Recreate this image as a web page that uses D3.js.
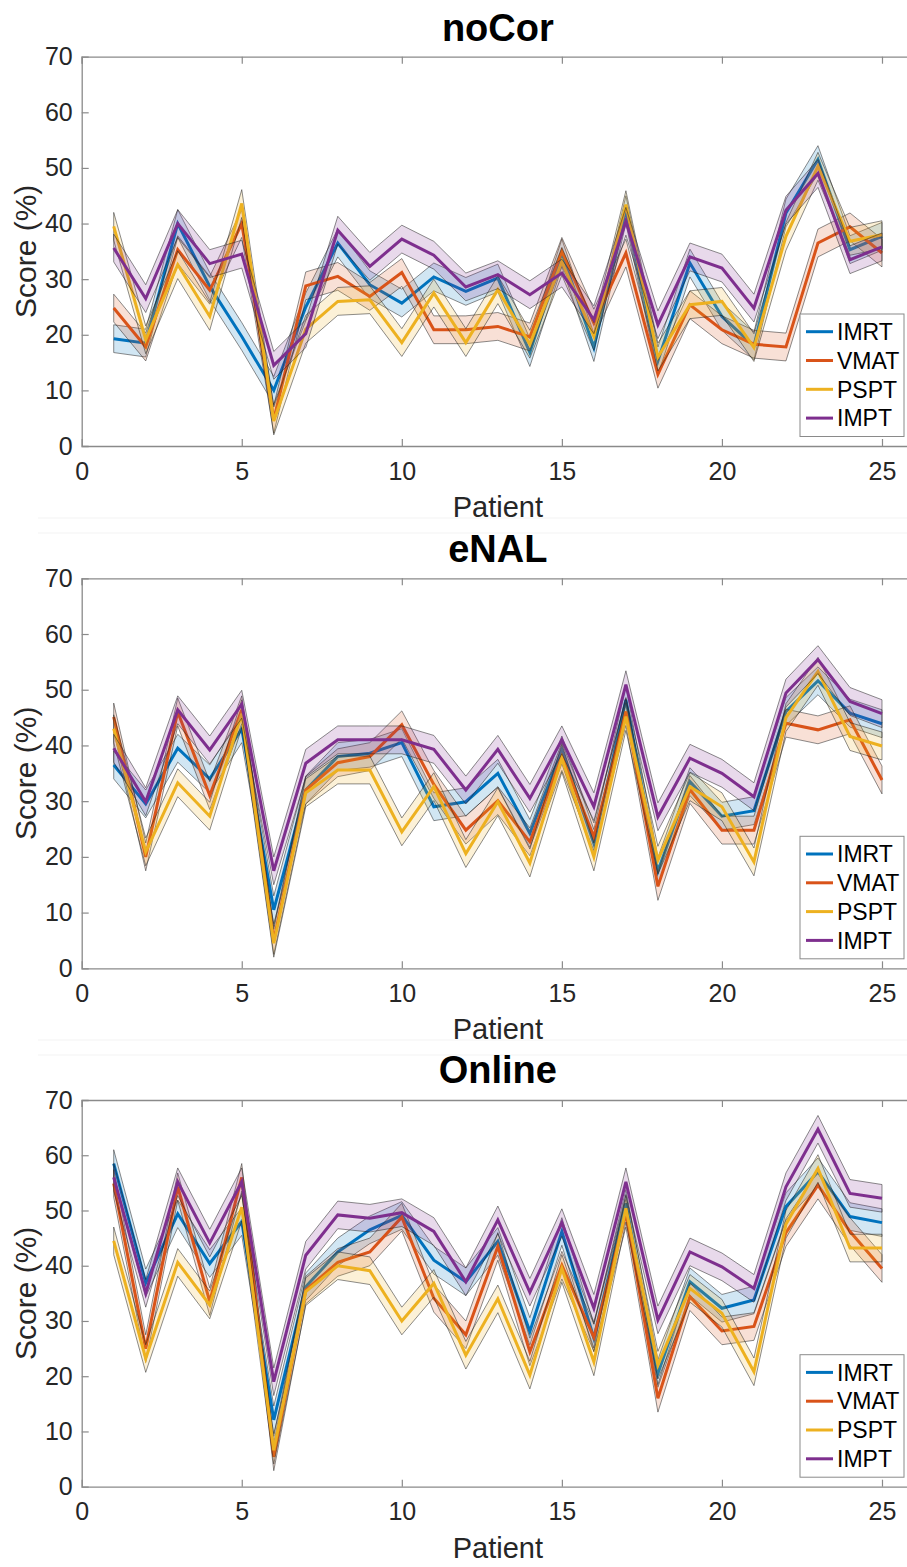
<!DOCTYPE html>
<html>
<head>
<meta charset="utf-8">
<script src="https://d3js.org/d3.v7.min.js"></script>
<style>
  body { margin: 0; background: #fff; }
  svg { display: block; font-family: "Liberation Sans", Arial, sans-serif; }
</style>
</head>
<body>
<div id="chart"></div>
<script>
// patients and methods
var patients = [1,2,3,4,5,6,7,8,9,10,11,12,13,14,15,16,17,18,19,20,21,22,23,24,25];
var methods = ["IMRT", "VMAT", "PSPT", "IMPT"];
var panelTitles = ["noCor", "eNAL", "Online"];
var xTicks = [0, 5, 10, 15, 20, 25];
var yTicks = [0, 10, 20, 30, 40, 50, 60, 70];

// noCor scores (%)
var noCorIMRT = [19.3,18.5,40,28.7,19.7,10,25,36.5,29,25.7,30.4,27.8,30.2,16.8,34.7,17.7,42.5,15.3,32.9,23.3,18,41.9,51.5,35.3,37.7];
var noCorVMAT = [24.8,17.8,35.3,28,40,4.8,28.8,30.5,26.9,31.2,20.9,20.9,21.5,19.6,35,22.1,34.7,12.9,25.4,20.9,18.3,17.8,36.5,39.4,34.7];
var noCorPSPT = [39.5,19.1,32.6,23.3,43.6,4.5,21,26,26.3,18.6,27.5,18.6,28.1,18.3,33.2,19.7,43.4,16,25.4,26,17.7,37.7,50.3,36.8,38];
var noCorIMPT = [35.6,26.5,40,32.8,34.5,14.5,20.2,38.8,32.3,37.2,34.3,28.6,30.8,27.2,31.1,22.7,40.4,21.8,34,32,24.8,42.4,49,33.5,35.8];

// eNAL scores (%)
var eNALIMRT = [36.5,29.5,39.5,34,43,10.5,32,38,38.6,40.5,29,29.9,35,24.2,39.2,22.4,48.2,17.4,33.5,27.3,28.3,46.1,51.6,45.8,43.9];
var eNALVMAT = [45.1,20,46,31,46.4,5,32,36.9,38,43.7,33,24.8,30.1,22.7,38,23.6,46.1,14.7,32.1,24.8,24.8,44,42.8,44.6,33.8];
var eNALPSPT = [43,20.9,33.3,27.3,45.7,4.5,31.5,35.6,35.6,24.5,32.6,20.6,29.9,18.9,37.7,20,45.2,19.4,32.6,29,19.1,45,53.3,41.6,39.9];
var eNALIMPT = [39.5,29.9,46.4,39.2,47.4,17.5,36.8,41,41,41,39.3,32,39.3,30.5,41,29,50.9,27.2,37.7,35,30.8,49.4,55.4,47.9,45.7];

// Online scores (%)
var onlineIMRT = [58.5,36.9,49.4,40.4,48,12.1,36.2,42.5,46.5,49.1,41,37.1,44.4,28.1,46.2,26.9,51.3,20.5,37.1,32.3,33.8,50.7,57,48.9,47.8];
var onlineVMAT = [54.9,25,54.3,33.5,56,5.4,35.6,40.6,42.5,48.8,34.1,27.5,43.5,24.4,40.1,27,49.5,16,34.4,28.2,29,46,54.6,46.2,39.5];
var onlinePSPT = [44.5,23.2,40.6,32.9,50.6,6.6,35.3,40,39.1,30,36.8,23.8,34,20.2,39.5,22.6,50.4,22,35.9,31.4,20.8,47.5,57.6,43.2,43.2];
var onlineIMPT = [56,35,55.2,44.1,55.2,19,41.9,49.2,48.6,49.6,46.2,37.1,48.3,35.2,47.8,32.3,55.2,30.2,42.5,39.8,35.9,54.3,64.7,53.1,52.2];

// half width of the shaded band, per method
var bandHalf = [2.5, 2.5, 2.5, 2.5];

var colors = ["#0072BD", "#D95319", "#EDB120", "#7E2F8E"];

var panelData = [
  [noCorIMRT, noCorVMAT, noCorPSPT, noCorIMPT],
  [eNALIMRT, eNALVMAT, eNALPSPT, eNALIMPT],
  [onlineIMRT, onlineVMAT, onlinePSPT, onlineIMPT]
];

// panel placement (px)
var panels = [
  {top: 56.7, bottom: 446, titleY: 41},
  {top: 578.3, bottom: 968.3, titleY: 562},
  {top: 1100, bottom: 1486.7, titleY: 1083}
];

var width = 907, height = 1567;
var left = 81.7, right = 914;

var svg = d3.select("#chart").append("svg")
    .attr("width", width)
    .attr("height", height);

// faint seams between the stacked figures
[518, 533, 1040, 1055].forEach(function(y) {
  svg.append("line")
      .attr("x1", 38).attr("x2", width)
      .attr("y1", y).attr("y2", y)
      .attr("stroke", "#f3f3f3").attr("stroke-width", 1);
});

var x = d3.scaleLinear().domain([0, 26]).range([left, right]);

panels.forEach(function(p, pi) {
  var y = d3.scaleLinear().domain([0, 70]).range([p.bottom, p.top]);
  var g = svg.append("g");

  // bands then lines, series by series
  panelData[pi].forEach(function(vals, si) {
    var pts = patients.map(function(d, i) { return {x: d, v: vals[i]}; });
    var area = d3.area()
        .x(function(d) { return x(d.x); })
        .y0(function(d) { return y(d.v - bandHalf[si]); })
        .y1(function(d) { return y(d.v + bandHalf[si]); });
    g.append("path")
        .datum(pts)
        .attr("d", area)
        .attr("fill", colors[si])
        .attr("fill-opacity", 0.18)
        .attr("stroke", "#222")
        .attr("stroke-opacity", 0.65)
        .attr("stroke-width", 0.8);
    var line = d3.line()
        .x(function(d) { return x(d.x); })
        .y(function(d) { return y(d.v); });
    g.append("path")
        .datum(pts)
        .attr("d", line)
        .attr("fill", "none")
        .attr("stroke", colors[si])
        .attr("stroke-width", 3)
        .attr("stroke-linejoin", "miter");
  });

  // axes (ticks inside, box on)
  var xb = g.append("g")
      .attr("transform", "translate(0," + p.bottom + ")")
      .call(d3.axisBottom(x).tickValues(xTicks).tickSize(-7).tickPadding(16).tickFormat(d3.format("d")));
  var xt = g.append("g")
      .attr("transform", "translate(0," + p.top + ")")
      .call(d3.axisTop(x).tickValues(xTicks).tickSize(-7).tickFormat(""));
  var yl = g.append("g")
      .attr("transform", "translate(" + left + ",0)")
      .call(d3.axisLeft(y).tickValues(yTicks).tickSize(-7).tickPadding(9));
  var yr = g.append("g")
      .attr("transform", "translate(" + right + ",0)")
      .call(d3.axisRight(y).tickValues(yTicks).tickSize(-7).tickFormat(""));

  [xb, xt, yl, yr].forEach(function(a) {
    a.select(".domain").attr("stroke", "#8a8a8a").attr("stroke-width", 1.3);
    a.selectAll(".tick line").attr("stroke", "#8a8a8a").attr("stroke-width", 1.2);
    a.selectAll("text").attr("fill", "#262626")
        .style("font-size", "25px")
        .style("font-family", "'Liberation Sans', Arial, sans-serif");
  });
  yl.selectAll(".tick line").filter(function(d) { return d === 0 || d === 70; }).remove();
  xb.selectAll(".tick line").filter(function(d) { return d === 0; }).remove();

  // title
  g.append("text")
      .attr("x", (left + right) / 2)
      .attr("y", p.titleY)
      .attr("text-anchor", "middle")
      .attr("font-weight", "bold")
      .attr("font-size", 38)
      .attr("fill", "#000")
      .text(panelTitles[pi]);

  // x label
  g.append("text")
      .attr("x", (left + right) / 2)
      .attr("y", p.bottom + 71)
      .attr("text-anchor", "middle")
      .attr("font-size", 29)
      .attr("fill", "#262626")
      .text("Patient");

  // y label
  g.append("text")
      .attr("transform", "translate(36," + ((p.top + p.bottom) / 2) + ") rotate(-90)")
      .attr("text-anchor", "middle")
      .attr("font-size", 30)
      .attr("fill", "#262626")
      .text("Score (%)");

  // legend, lower right inside the axes
  var lg = g.append("g").attr("transform", "translate(800," + (p.bottom - 132) + ")");
  lg.append("rect")
      .attr("width", 104).attr("height", 122.5)
      .attr("fill", "#fff")
      .attr("stroke", "#8a8a8a").attr("stroke-width", 1);
  methods.forEach(function(m, i) {
    var cy = 17.7 + i * 28.8;
    lg.append("line")
        .attr("x1", 6).attr("x2", 33)
        .attr("y1", cy).attr("y2", cy)
        .attr("stroke", colors[i]).attr("stroke-width", 3);
    lg.append("text")
        .attr("x", 37).attr("y", cy)
        .attr("dy", "0.36em")
        .attr("font-size", 23)
        .attr("fill", "#000")
        .text(m);
  });
});
</script>
</body>
</html>
